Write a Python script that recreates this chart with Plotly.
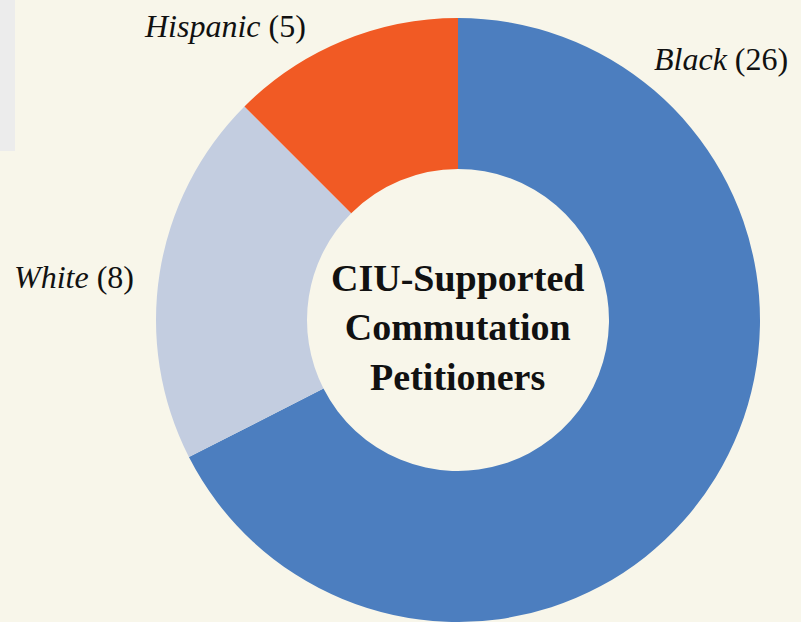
import plotly.graph_objects as go

groups = ["Black", "White", "Hispanic"]
label_counts = [26, 8, 5]          # numbers printed in the labels
slice_values = [27, 8, 5]          # arc sizes as drawn in the reference
colors = ["#4c7ebf", "#c3cde0", "#f15a24"]
center_title = ["CIU-Supported", "Commutation", "Petitioners"]

W, H = 801, 622
SERIF = "Liberation Serif, DejaVu Serif, serif"

fig = go.Figure(go.Pie(
    labels=groups, values=slice_values, sort=False, direction="clockwise", rotation=0,
    hole=0.5, marker=dict(colors=colors, line=dict(width=0)),
    textinfo="none", hoverinfo="label", showlegend=False,
    domain=dict(x=[156 / W, 760 / W], y=[0, 604 / H]),
))

label_pos = {
    "Black": dict(x=790 / W, y=1 - 59 / H, xanchor="right"),
    "White": dict(x=12 / W, y=1 - 277 / H, xanchor="left"),
    "Hispanic": dict(x=308 / W, y=1 - 26 / H, xanchor="right"),
}
for g, c in zip(groups, label_counts):
    p = label_pos[g]
    fig.add_annotation(
        text=f"<i>{g}</i> ({c})", xref="paper", yref="paper",
        x=p["x"], y=p["y"], xanchor=p["xanchor"], yanchor="middle",
        showarrow=False, font=dict(family=SERIF, size=32, color="#111111"),
    )

fig.add_annotation(
    text="<b>" + "<br>".join(center_title) + "</b>", xref="paper", yref="paper",
    x=458 / W, y=1 - 328 / H, xanchor="center", yanchor="middle",
    showarrow=False, align="center",
    font=dict(family=SERIF, size=38, color="#111111"),
)

fig.add_shape(type="rect", xref="paper", yref="paper", x0=0, x1=15 / W,
              y0=1 - 151 / H, y1=1, fillcolor="#ececec", line=dict(width=0),
              layer="below")

fig.update_layout(
    width=W, height=H, margin=dict(l=0, r=0, t=0, b=0),
    paper_bgcolor="#f8f6ea", plot_bgcolor="#f8f6ea",
)
fig.write_html("out.html")
